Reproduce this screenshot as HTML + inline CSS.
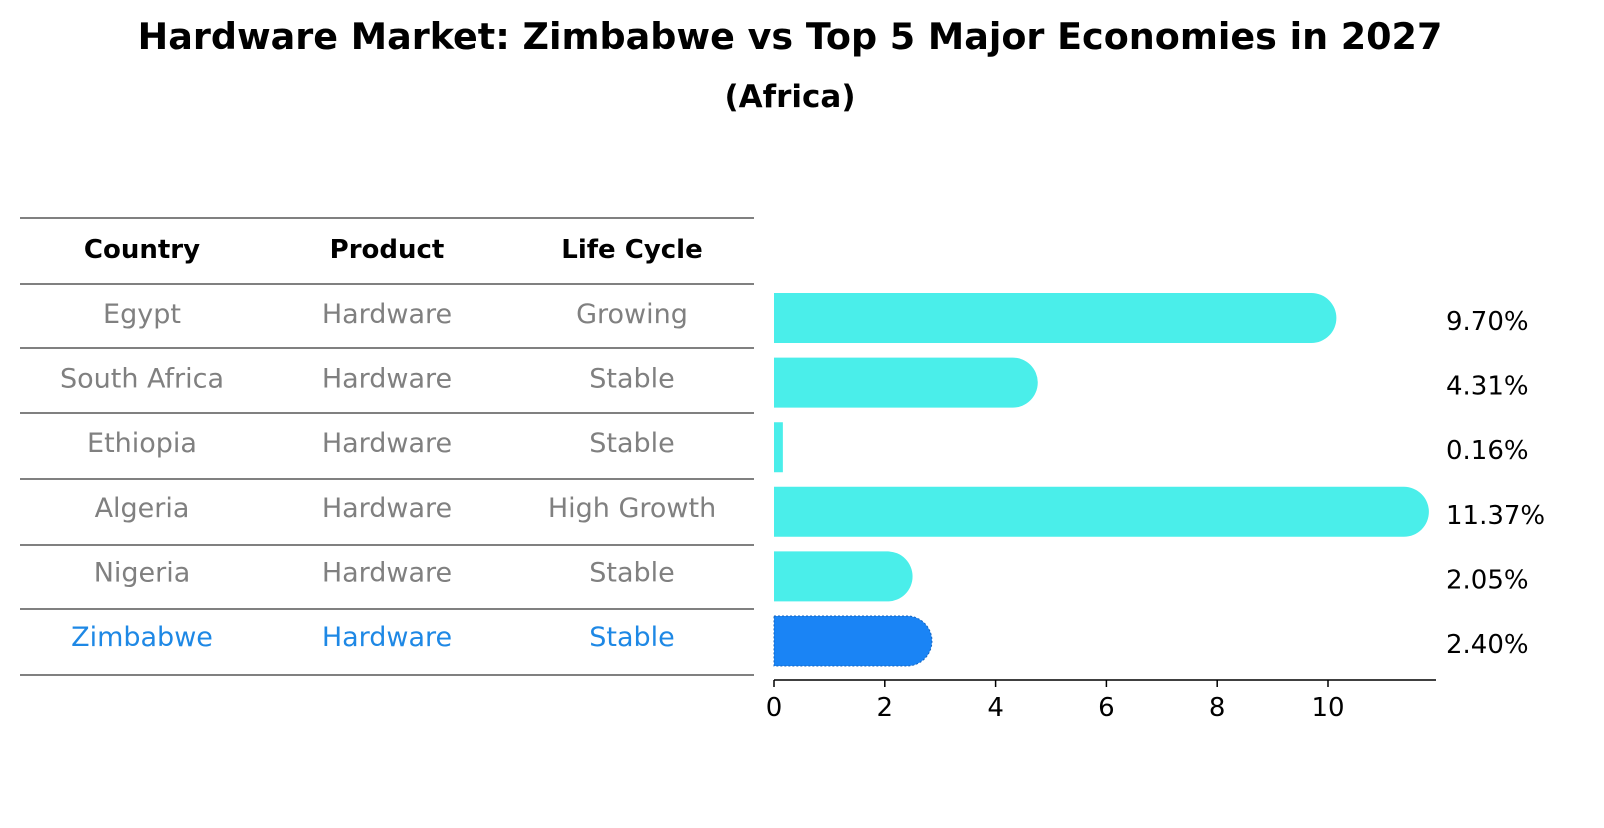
<!DOCTYPE html>
<html><head><meta charset="utf-8"><style>
body{margin:0;background:#fff;font-family:"Liberation Sans","DejaVu Sans",sans-serif;}
</style></head><body>
<svg width="1604" height="823" xmlns="http://www.w3.org/2000/svg" font-family="DejaVu Sans, Liberation Sans, sans-serif">
<text x="790" y="49" text-anchor="middle" font-size="36.5" font-weight="bold">Hardware Market: Zimbabwe vs Top 5 Major Economies in 2027</text>
<text x="790" y="107" text-anchor="middle" font-size="31" font-weight="bold">(Africa)</text>
<g id="table"></g>
<g id="bars"></g>
</svg>
<script>
const countries=["Egypt","South Africa","Ethiopia","Algeria","Nigeria","Zimbabwe"];
const products=["Hardware","Hardware","Hardware","Hardware","Hardware","Hardware"];
const lifeCycles=["Growing","Stable","Stable","High Growth","Stable","Stable"];
const values=[9.70,4.31,0.16,11.37,2.05,2.40];
const valueLabels=["9.70%","4.31%","0.16%","11.37%","2.05%","2.40%"];
const ticks=[0,2,4,6,8,10];
const NS="http://www.w3.org/2000/svg";
function mk(tag,attrs,parent){const e=document.createElementNS(NS,tag);for(const k in attrs)e.setAttribute(k,attrs[k]);parent.appendChild(e);return e;}
const x=v=>774+v*55.4;
const rowY=i=>318+i*64.6;
const tbl=document.getElementById('table');
const lineYs=[218,284,348,413,479,545,609,675];
lineYs.forEach(y=>{const l=mk('line',{x1:20,x2:754,y1:y,y2:y,stroke:'#000','stroke-width':1},tbl);

});
const cx=[142,387,632];
["Country","Product","Life Cycle"].forEach((h,j)=>{const t=mk('text',{x:cx[j],y:258,'text-anchor':'middle','font-size':26,'font-weight':'bold'},tbl);t.textContent=h;

});
countries.forEach((c,i)=>{const col=i===countries.length-1?'#1e88e5':'#808080';
[c,products[i],lifeCycles[i]].forEach((s,j)=>{const t=mk('text',{x:cx[j],y:rowY(i)+5,'text-anchor':'middle','font-size':27,fill:col},tbl);t.textContent=s;

});});
const g=document.getElementById('bars');
const h=50,r=25;
values.forEach((v,i)=>{const last=i===values.length-1;const col=last?'#1a84f5':'#4aeeea';
const y0=rowY(i)-h/2;const xe=x(v);let d;
if(xe-x(0)>r){d=`M${x(0)},${y0}H${xe}A${r},${r} 0 0 1 ${xe},${y0+h}H${x(0)}Z`;}else{d=`M${x(0)},${y0}H${xe}V${y0+h}H${x(0)}Z`;}
const p=mk('path',{d:d,fill:col},g);
if(last){p.setAttribute('stroke','#1565c0');p.setAttribute('stroke-dasharray','2 2');p.setAttribute('stroke-width','1');}


const t=mk('text',{x:1446,y:rowY(i)+12,'font-size':26},g);t.textContent=valueLabels[i];

});
const ax=mk('line',{x1:774,x2:1436,y1:680,y2:680,stroke:'#000','stroke-width':1.5},g);


ticks.forEach(tv=>{mk('line',{x1:x(tv),x2:x(tv),y1:680,y2:687,stroke:'#000','stroke-width':1.5},g);
const t=mk('text',{x:x(tv),y:716,'text-anchor':'middle','font-size':26},g);t.textContent=tv;

});
</script>
</body></html>
